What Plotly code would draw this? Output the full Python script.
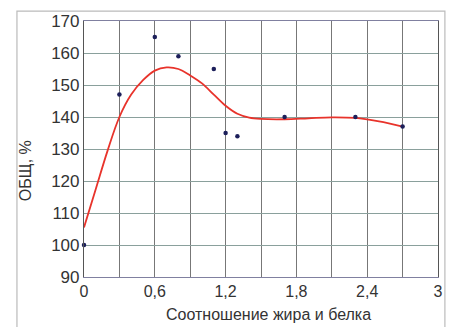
import plotly.graph_objects as go

# Measured points
ratio = [0, 0.3, 0.6, 0.8, 1.1, 1.2, 1.3, 1.7, 2.3, 2.7]
obsch = [100, 147, 165, 159, 155, 135, 134, 140, 140, 137]

# Smoothed trend curve
trend_x = [0, 0.1, 0.2, 0.3, 0.4, 0.5, 0.6, 0.7, 0.8, 0.9, 1.0, 1.1, 1.2, 1.3,
           1.4, 1.5, 1.7, 1.9, 2.1, 2.3, 2.5, 2.7]
trend_y = [105.5, 117.5, 129.5, 140, 147, 151.5, 154.5, 155.5, 155, 153, 150.5,
           147, 143.5, 141, 139.8, 139.4, 139.3, 139.6, 139.9, 139.7, 138.6, 137]

x_ticks = [0, 0.3, 0.6, 0.9, 1.2, 1.5, 1.8, 2.1, 2.4, 2.7, 3]
x_labels = ["0", "", "0,6", "", "1,2", "", "1,8", "", "2,4", "", "3"]
y_ticks = [90, 100, 110, 120, 130, 140, 150, 160, 170]

fig = go.Figure()
fig.add_trace(go.Scatter(x=trend_x, y=trend_y, mode="lines",
                         line=dict(color="#e8332b", width=1.8, shape="spline"),
                         hoverinfo="skip", showlegend=False))
fig.add_trace(go.Scatter(x=ratio, y=obsch, mode="markers",
                         marker=dict(color="#1c1f5a", size=4.5),
                         cliponaxis=False, showlegend=False))

font = "Liberation Sans, Arial, sans-serif"
fig.update_layout(
    width=455, height=327,
    margin=dict(l=84, r=12, t=20, b=50),
    paper_bgcolor="white", plot_bgcolor="white",
    font=dict(family=font, size=16, color="#333333"),
    xaxis=dict(range=[0, 3], tickvals=x_ticks, ticktext=x_labels,
               showgrid=True, gridcolor="#777777", gridwidth=1.2,
               showline=True, linecolor="#8080a0", linewidth=1.2, mirror=True,
               ticks="", zeroline=False, tickfont=dict(size=16, color="#333333")),
    yaxis=dict(range=[90, 170], tickvals=y_ticks,
               showgrid=True, gridcolor="#8aa09c", gridwidth=1.2,
               showline=True, linecolor="#555555", linewidth=1.2, mirror=True,
               ticks="", zeroline=False, tickfont=dict(size=17, color="#333333")),
    shapes=[dict(type="rect", xref="paper", yref="paper",
                 x0=-68/359, x1=1 + 7/359, y0=-0.25, y1=1 + 10/257,
                 line=dict(color="#bbbbbb", width=1.2), layer="below")],
    annotations=[
        dict(text="Соотношение жира и белка", xref="paper", yref="paper",
             x=0.52, y=-27/257, yanchor="top", xanchor="center", showarrow=False,
             font=dict(size=16, color="#333333")),
        dict(text="ОБЩ, %", xref="paper", yref="paper", textangle=-90,
             x=-59/359, y=(277 - 170) / 257, xanchor="center", yanchor="middle",
             showarrow=False, font=dict(size=16, color="#333333")),
    ],
)
# remove the default 8px page margin so the figure sits at the window's corner
fig.write_html("out.html", config={"displayModeBar": False},
               post_script="document.body.style.margin='0';")
